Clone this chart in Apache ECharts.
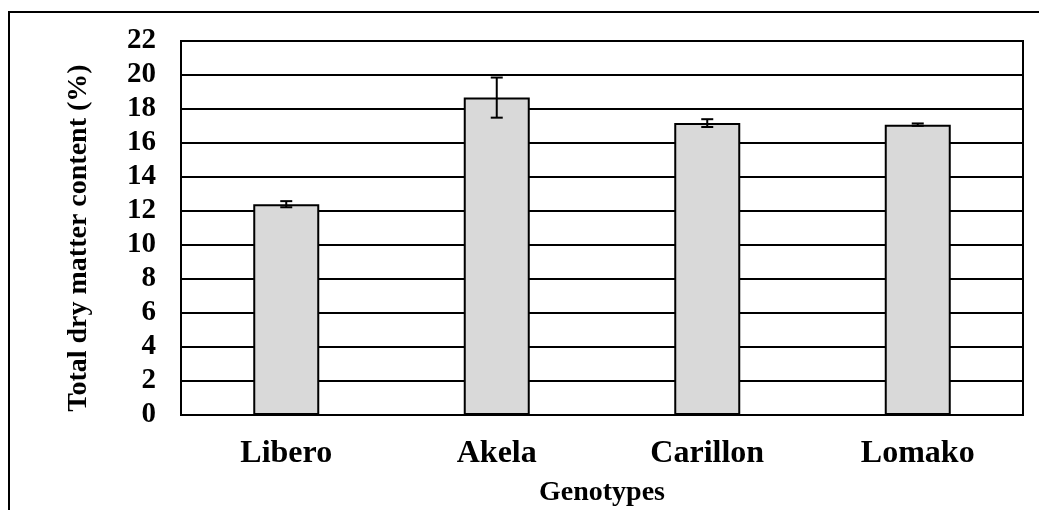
<!DOCTYPE html>
<html><head><meta charset="utf-8">
<script src="https://cdn.jsdelivr.net/npm/echarts@6/dist/echarts.min.js"></script>
<style>html,body{margin:0;padding:0;background:#fff}#c{width:1039px;height:510px}</style>
</head><body><div id="c"></div>
<script>
const categories = ['Libero', 'Akela', 'Carillon', 'Lomako'];
const meanValues = [12.4, 18.67, 17.17, 17.08];
const errorValues = [0.18, 1.18, 0.23, 0.07];
const yTicks = [0, 2, 4, 6, 8, 10, 12, 14, 16, 18, 20, 22];

const chart = echarts.init(document.getElementById('c'));
const font = '"Liberation Serif", "Times New Roman", serif';
const errData = categories.map((c, i) => [i, meanValues[i] - errorValues[i], meanValues[i] + errorValues[i]]);

chart.setOption({
  animation: false,
  backgroundColor: '#fff',
  graphic: [{
    type: 'rect', shape: { x: 9, y: 12, width: 1100, height: 600 },
    style: { fill: 'none', stroke: '#000', lineWidth: 2 }, silent: true
  }],
  grid: { left: 181, top: 41, right: 16, bottom: 95, show: true, borderColor: '#000', borderWidth: 2, backgroundColor: 'transparent', outerBoundsMode: 'none', containLabel: false },
  xAxis: {
    type: 'category', data: categories,
    name: 'Genotypes', nameLocation: 'middle', nameGap: 64,
    nameTextStyle: { fontFamily: font, fontWeight: 'bold', fontSize: 28, color: '#000', verticalAlign: 'top' },
    axisLine: { lineStyle: { color: '#000', width: 2 } },
    axisTick: { show: false },
    axisLabel: { fontFamily: font, fontWeight: 'bold', fontSize: 32, color: '#000', margin: 23 }
  },
  yAxis: {
    type: 'value', min: yTicks[0], max: yTicks[yTicks.length - 1], interval: 2,
    name: 'Total dry matter content (%)', nameLocation: 'middle', nameGap: 88,
    nameTextStyle: { fontFamily: font, fontWeight: 'bold', fontSize: 28, color: '#000', padding: [0, 20, 0, 0] },
    axisLine: { show: true, lineStyle: { color: '#000', width: 2 } },
    axisTick: { show: false },
    splitLine: { lineStyle: { color: '#000', width: 2 } },
    axisLabel: { fontFamily: font, fontWeight: 'bold', fontSize: 29, color: '#000', margin: 25 }
  },
  series: [{
    type: 'bar', data: meanValues, barWidth: 66,
    itemStyle: { color: '#d9d9d9', borderColor: '#000', borderWidth: 2 },
    z: 3
  }, {
    type: 'custom', data: errData, z: 5,
    renderItem: function (params, api) {
      const x = api.value(0);
      const lo = api.coord([x, api.value(1)]);
      const hi = api.coord([x, api.value(2)]);
      const hw = 6;
      const st = { stroke: '#000', lineWidth: 2 };
      return { type: 'group', children: [
        { type: 'line', shape: { x1: lo[0], y1: lo[1], x2: hi[0], y2: hi[1] }, style: st },
        { type: 'line', shape: { x1: lo[0] - hw, y1: lo[1], x2: lo[0] + hw, y2: lo[1] }, style: st },
        { type: 'line', shape: { x1: hi[0] - hw, y1: hi[1], x2: hi[0] + hw, y2: hi[1] }, style: st }
      ]};
    }
  }]
});
</script></body></html>
